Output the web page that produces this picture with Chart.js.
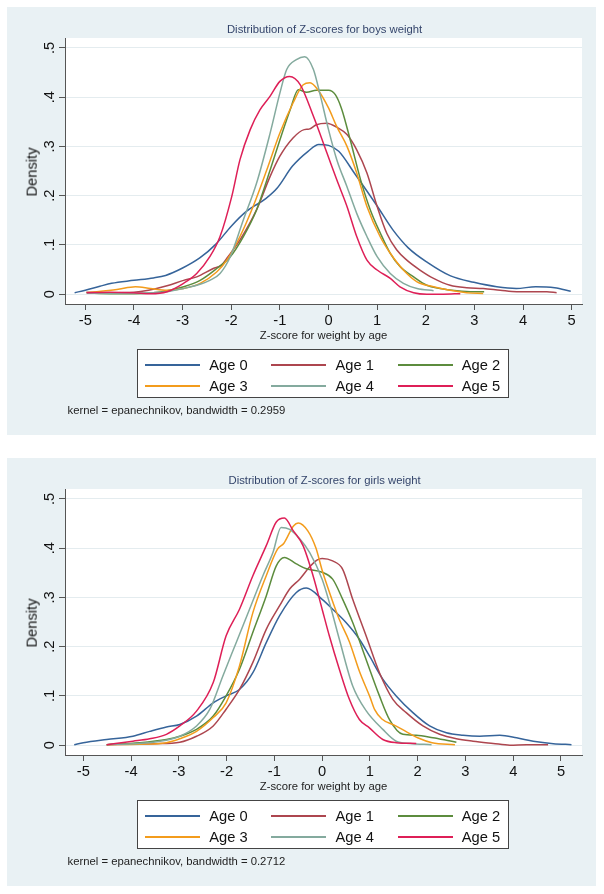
<!DOCTYPE html>
<html>
<head>
<meta charset="utf-8">
<script src="https://cdn.jsdelivr.net/npm/chart.js@4"></script>
<style>
  *{box-sizing:border-box;margin:0;padding:0}
  body{width:604px;height:894px;background:#fff;font-family:"Liberation Sans",Arial,sans-serif;position:relative;overflow:hidden}
  .panel{position:absolute;left:7px;width:589px;height:428px;background:#e9f1f4}
  .panel canvas{position:absolute;left:0;top:0}
  .txt{position:absolute;white-space:nowrap;line-height:1;transform:translate(-50%,-50%)}
  .title{left:317.6px;top:23px;font-size:11.3px;color:#34456b}
  .xtitle{left:316.5px;top:328.5px;font-size:11.3px;color:#222}
  .ytitle{left:25px;top:165px;font-size:14.7px;color:#111;transform:translate(-50%,-50%) rotate(-90deg)}
  .note{position:absolute;left:60.5px;top:398px;font-size:11.3px;color:#222;white-space:nowrap;line-height:1}
  .legend{position:absolute;left:129.7px;top:342px;width:372.6px;height:48.7px;background:#fff;border:1px solid #444}
  .item{position:absolute;height:16px;display:flex;align-items:center;font-size:14.7px;color:#111}
  .item i{display:inline-block;width:55px;height:1.5px;margin-right:9px}
</style>
</head>
<body>
<script>
const ageLabels = ["Age 0", "Age 1", "Age 2", "Age 3", "Age 4", "Age 5"];
const lineColors = ["#36649a", "#ad464f", "#5c8c3d", "#f39c1c", "#84aa9e", "#de1f57"];
const xTicks = [-5, -4, -3, -2, -1, 0, 1, 2, 3, 4, 5];
const yTicks = [0, 0.1, 0.2, 0.3, 0.4, 0.5];
const yTickLabels = ["0", ".1", ".2", ".3", ".4", ".5"];

// boys, [z, density]
const boysAge0 = [[-5.22,.003],[-5,.008],[-4.7,.016],[-4.46,.022],[-4,.028],[-3.6,.033],[-3.35,.038],[-3,.053],[-2.64,.074],[-2.32,.101],[-2,.138],[-1.69,.168],[-1.29,.194],[-1.05,.216],[-0.74,.26],[-0.42,.29],[-0.2,.304],[0,.302],[0.21,.29],[0.53,.246],[1,.179],[1.32,.131],[1.64,.094],[2.04,.064],[2.51,.037],[2.99,.024],[3.46,.015],[3.86,.0115],[4.26,.015],[4.65,.013],[4.98,.006]];
const boysAge1 = [[-4.98,.004],[-4.5,.003],[-4,.004],[-3.7,.008],[-3.32,.017],[-2.98,.028],[-2.71,.035],[-2.37,.052],[-2.2,.059],[-2.09,.073],[-1.82,.11],[-1.48,.171],[-1.2,.239],[-1,.28],[-0.73,.317],[-0.5,.334],[-0.4,.335],[-0.25,.344],[-0.04,.347],[0.17,.339],[0.38,.324],[0.58,.293],[0.79,.246],[1,.178],[1.2,.123],[1.4,.09],[1.61,.069],[1.88,.049],[2.16,.032],[2.5,.018],[2.84,.013],[3.18,.0115],[3.53,.008],[3.87,.005],[4.21,.005],[4.49,.005],[4.69,.003]];
const boysAge2 = [[-4.97,.002],[-4.5,.001],[-4,.001],[-3.6,.003],[-3.32,.007],[-2.98,.015],[-2.64,.028],[-2.3,.052],[-2.02,.076],[-1.75,.117],[-1.48,.171],[-1.2,.252],[-1,.313],[-0.79,.374],[-0.62,.415],[-0.45,.41],[-0.25,.414],[0,.414],[0.14,.405],[0.27,.376],[0.45,.312],[0.66,.232],[0.86,.171],[1.07,.123],[1.27,.083],[1.47,.056],[1.75,.035],[2.02,.018],[2.29,.0115],[2.64,.007],[2.99,.005],[3.2,.005]];
const boysAge3 = [[-4.97,.003],[-4.35,.0095],[-3.97,.015],[-3.66,.0115],[-3.32,.008],[-2.98,.0115],[-2.64,.022],[-2.3,.045],[-2.09,.069],[-1.82,.117],[-1.55,.178],[-1.27,.252],[-1,.327],[-0.73,.388],[-0.52,.425],[-0.38,.429],[-0.22,.415],[0,.378],[0.17,.34],[0.38,.3],[0.58,.246],[0.79,.178],[1.06,.117],[1.27,.083],[1.54,.049],[1.82,.025],[2.16,.015],[2.5,.008],[2.84,.003],[3.18,.0014]];
const boysAge4 = [[-4.97,.002],[-4,.002],[-3.6,.003],[-3.32,.005],[-2.98,.0115],[-2.71,.018],[-2.44,.028],[-2.23,.042],[-2.02,.076],[-1.75,.151],[-1.48,.225],[-1.2,.327],[-1,.408],[-0.86,.456],[-0.66,.476],[-0.49,.482],[-0.31,.456],[-0.18,.408],[0,.334],[0.17,.273],[0.38,.218],[0.58,.164],[0.79,.117],[1,.076],[1.27,.042],[1.54,.022],[1.82,.0115],[2.16,.007]];
const boysAge5 = [[-4.97,.003],[-4.5,.004],[-4,.003],[-3.66,.001],[-3.32,.005],[-2.98,.022],[-2.71,.042],[-2.44,.076],[-2.23,.117],[-1.99,.198],[-1.82,.273],[-1.61,.334],[-1.41,.374],[-1.2,.402],[-1,.432],[-0.8,.442],[-0.58,.425],[-0.31,.361],[-0.03,.286],[0.17,.232],[0.38,.178],[0.58,.117],[0.79,.069],[1,.049],[1.27,.032],[1.47,.015],[1.75,.003],[2.02,0],[2.36,0],[2.71,.001]];

// girls, [z, density]
const girlsAge0 = [[-5.19,.001],[-5,.005],[-4.51,.0115],[-3.96,.018],[-3.61,.028],[-3.26,.037],[-2.98,.042],[-2.63,.059],[-2.28,.086],[-2.01,.1],[-1.73,.113],[-1.45,.147],[-1.17,.208],[-0.89,.263],[-0.54,.31],[-0.33,.319],[0,.296],[0.22,.276],[0.5,.249],[0.78,.215],[0.99,.181],[1.27,.134],[1.55,.1],[1.9,.066],[2.25,.039],[2.6,.025],[2.95,.02],[3.3,.018],[3.72,.02],[4.07,.015],[4.42,.008],[4.84,.003],[5.22,.001]];
const girlsAge1 = [[-4.51,.001],[-4,.002],[-3.5,.003],[-2.98,.006],[-2.63,.018],[-2.28,.039],[-2.01,.073],[-1.73,.113],[-1.45,.168],[-1.17,.235],[-0.89,.283],[-0.68,.317],[-0.47,.337],[-0.26,.362],[-0.1,.376],[0,.379],[0.22,.374],[0.43,.357],[0.64,.296],[0.92,.222],[1.2,.147],[1.48,.093],[1.76,.066],[2.11,.039],[2.46,.022],[2.81,.013],[3.16,.008],[3.58,.0035],[3.93,0],[4.28,.001],[4.73,.001]];
const girlsAge2 = [[-4.51,.001],[-3.82,.005],[-3.26,.0115],[-2.98,.018],[-2.63,.032],[-2.28,.059],[-2.01,.1],[-1.73,.154],[-1.45,.229],[-1.17,.303],[-0.96,.364],[-0.79,.381],[-0.54,.368],[-0.33,.358],[0,.351],[0.22,.337],[0.43,.296],[0.64,.249],[0.92,.174],[1.2,.1],[1.41,.052],[1.69,.022],[1.97,.02],[2.32,.015],[2.6,.01],[2.81,.006]];
const girlsAge3 = [[-4.51,.001],[-3.82,.002],[-3.26,.005],[-2.98,.013],[-2.63,.028],[-2.28,.056],[-2.01,.086],[-1.73,.161],[-1.45,.269],[-1.17,.344],[-0.94,.397],[-0.8,.41],[-0.6,.445],[-0.5,.451],[-0.3,.435],[-0.13,.4],[0,.355],[0.19,.3],[0.36,.255],[0.57,.21],[0.78,.15],[1,.098],[1.1,.072],[1.25,.053],[1.5,.041],[1.75,.028],[2,.015],[2.3,.005],[2.78,.001]];
const girlsAge4 = [[-4.51,.001],[-3.82,.0035],[-3.26,.01],[-2.98,.018],[-2.63,.039],[-2.35,.073],[-2.08,.14],[-1.8,.208],[-1.52,.276],[-1.24,.344],[-1.03,.391],[-0.86,.442],[-0.68,.438],[-0.47,.419],[-0.26,.391],[0,.337],[0.15,.29],[0.36,.215],[0.64,.12],[0.92,.07],[1.27,.032],[1.55,.008],[1.83,.0035],[2.29,.001]];
const girlsAge5 = [[-4.51,.001],[-3.96,.008],[-3.61,.013],[-3.26,.022],[-2.98,.039],[-2.63,.069],[-2.28,.127],[-2.01,.222],[-1.73,.276],[-1.45,.344],[-1.17,.405],[-0.96,.453],[-0.79,.461],[-0.61,.436],[-0.4,.405],[-0.19,.344],[0,.276],[0.15,.222],[0.36,.154],[0.57,.093],[0.78,.052],[0.99,.035],[1.27,.0115],[1.55,.005],[1.97,.0035]];

const panels = [
  { top: 7, title: "Distribution of Z-scores for boys weight", note: "kernel = epanechnikov, bandwidth = 0.2959",
    xMin: -5.418, xMax: 5.212, series: [boysAge0, boysAge1, boysAge2, boysAge3, boysAge4, boysAge5] },
  { top: 458, title: "Distribution of Z-scores for girls weight", note: "kernel = epanechnikov, bandwidth = 0.2712",
    xMin: -5.383, xMax: 5.44, series: [girlsAge0, girlsAge1, girlsAge2, girlsAge3, girlsAge4, girlsAge5] }
];

// white plot region like stata's plotregion
const plotBg = {
  id: "plotBg",
  beforeDraw(chart) {
    const { ctx, chartArea: a } = chart;
    ctx.save();
    ctx.fillStyle = "#fff";
    ctx.fillRect(a.left, a.top, a.right - a.left, a.bottom - a.top);
    ctx.restore();
  }
};

Chart.defaults.font.family = '"Liberation Sans", Arial, sans-serif';
Chart.defaults.color = "#111";

panels.forEach((p, n) => {
  const div = document.createElement("div");
  div.className = "panel";
  div.style.top = p.top + "px";
  div.innerHTML = `<canvas width="589" height="428"></canvas>
    <div class="txt title">${p.title}</div>
    <div class="txt xtitle">Z-score for weight by age</div>
    <div class="txt ytitle">Density</div>
    <div class="legend">${ageLabels.map((l, i) =>
      `<div class="item" style="left:${7.6 + (i % 3) * 126.2}px;top:${(i < 3 ? 7 : 28)}px"><i style="background:${lineColors[i]}"></i>${l}</div>`).join("")}</div>
    <div class="note">${p.note}</div>`;
  document.body.appendChild(div);

  new Chart(div.querySelector("canvas"), {
    type: "line",
    data: {
      datasets: p.series.map((pts, i) => ({
        label: ageLabels[i],
        data: pts.map(([x, y]) => ({ x, y })),
        borderColor: lineColors[i],
        borderWidth: 1.5,
        pointRadius: 0,
        fill: false,
        cubicInterpolationMode: "monotone",
        order: 5 - i
      }))
    },
    options: {
      responsive: false,
      animation: false,
      layout: { padding: { top: 31, right: 14, bottom: 101, left: 0 } },
      plugins: { legend: { display: false }, title: { display: false }, tooltip: { enabled: false } },
      scales: {
        x: {
          type: "linear", min: p.xMin, max: p.xMax, bounds: "data",
          afterBuildTicks: s => { s.ticks = xTicks.map(v => ({ value: v })); },
          afterFit: s => { s.height = 30; },
          ticks: { font: { size: 14.7 }, padding: 2, maxRotation: 0, callback: v => String(v) },
          grid: { drawOnChartArea: false, tickLength: 6, tickColor: "#555" },
          border: { color: "#555", width: 1 }
        },
        y: {
          type: "linear", min: -0.02, max: 0.52, bounds: "data",
          afterBuildTicks: s => { s.ticks = yTicks.map(v => ({ value: v })); },
          afterFit: s => { s.width = 58; },
          ticks: { font: { size: 14.7 }, padding: 3, minRotation: 90, maxRotation: 90, crossAlign: "center",
                   callback: (v, i) => yTickLabels[i] },
          grid: { color: "#e4ecef", lineWidth: 1, tickLength: 6, tickColor: "#555" },
          border: { color: "#555", width: 1 }
        }
      }
    },
    plugins: [plotBg]
  });
});
</script>
</body>
</html>
